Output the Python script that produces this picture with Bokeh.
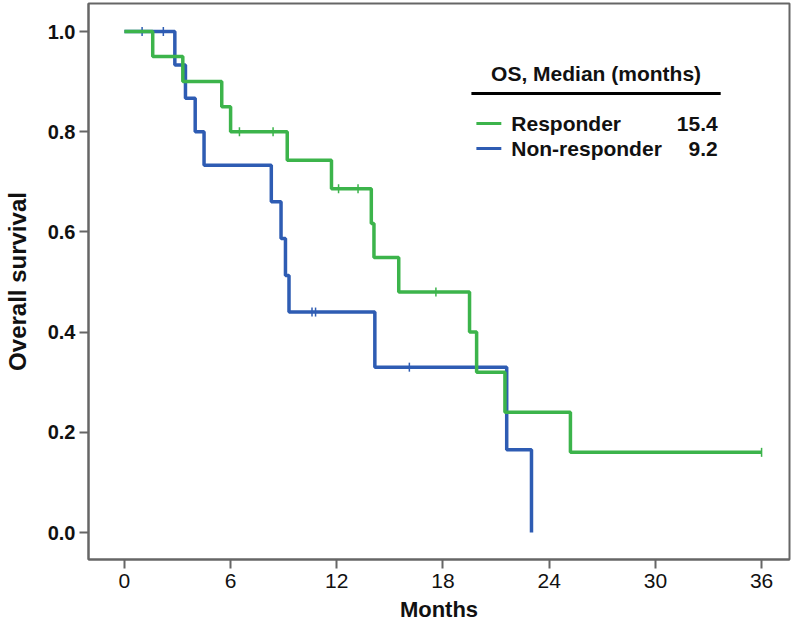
import numpy as np
from bokeh.plotting import figure
from bokeh.models import Range1d, FixedTicker, Label, NumeralTickFormatter
from bokeh.embed import file_html
from bokeh.resources import INLINE

# ---------------- data ----------------
resp_time = [0, 1.6, 3.3, 5.5, 6.0, 9.2, 11.7, 13.95, 14.1, 15.5, 19.5, 19.9, 21.5, 25.2, 36.0]
resp_surv = [1.0, 0.95, 0.90, 0.85, 0.80, 0.743, 0.686, 0.617, 0.549, 0.480, 0.400, 0.320, 0.240, 0.160, 0.160]
resp_cens_time = [6.5, 8.4, 12.1, 13.2, 17.6, 36.0]
resp_cens_surv = [0.80, 0.80, 0.686, 0.686, 0.480, 0.160]

non_time = [0, 2.85, 3.45, 4.0, 4.5, 8.3, 8.85, 9.1, 9.3, 14.15, 21.6, 23.0]
non_surv = [1.0, 0.933, 0.867, 0.800, 0.733, 0.660, 0.587, 0.513, 0.440, 0.330, 0.165, 0.0]
non_cens_time = [1.0, 2.2, 10.6, 10.8, 16.1]
non_cens_surv = [1.0, 1.0, 0.44, 0.44, 0.33]

groups = ["Responder", "Non-responder"]
medians = ["15.4", "9.2"]
legend_title = "OS, Median (months)"
x_ticks = [0, 6, 12, 18, 24, 30, 36]
y_ticks = [0.0, 0.2, 0.4, 0.6, 0.8, 1.0]

GREEN = "#3cb44b"
BLUE = "#2e5cb3"
FRAME = "#666666"
FONT = "Liberation Sans"

# ---------------- layout helpers (figure pixel -> data) ----------------
PX0, PXS = 122.0, 17.75   # pixel x of 0 months, px per month
PY0, PYS = 532.0, 501.0   # pixel y of 0.0 survival, px per unit
def dx(px):
    return (px - PX0) / PXS
def dy(py):
    return (PY0 - py) / PYS

W, H = 792, 624
FL, FR, FT, FB = 86, 789, 3, 559  # frame edges in figure pixels

p = figure(width=W, height=H, output_backend="svg", toolbar_location=None,
           x_range=Range1d(dx(FL), dx(FR)), y_range=Range1d(dy(FB), dy(FT)),
           min_border_left=FL, min_border_right=W - FR,
           min_border_top=FT, min_border_bottom=H - FB)
p.background_fill_color = "white"
p.border_fill_color = "white"
p.outline_line_color = FRAME
p.outline_line_width = 2
p.xgrid.visible = False
p.ygrid.visible = False

for ax in (p.xaxis[0], p.yaxis[0]):
    ax.axis_line_color = FRAME
    ax.axis_line_width = 2
    ax.major_tick_line_color = FRAME
    ax.major_tick_line_width = 2
    ax.major_tick_out = 9
    ax.major_tick_in = 0
    ax.minor_tick_line_color = None
    ax.major_label_text_font = FONT
    ax.major_label_text_color = "#111111"
    ax.axis_label_text_font = FONT
    ax.axis_label_text_font_style = "bold"
    ax.axis_label_text_color = "#111111"

p.xaxis.ticker = FixedTicker(ticks=x_ticks)
p.yaxis.ticker = FixedTicker(ticks=y_ticks)
p.yaxis.formatter = NumeralTickFormatter(format="0.0")
p.xaxis.major_label_text_font_size = "21px"
p.yaxis.major_label_text_font_size = "20px"
p.yaxis.major_label_text_font_style = "bold"
p.xaxis.major_label_standoff = 5
p.yaxis.major_label_standoff = 4
p.xaxis.axis_label = "Months"
p.yaxis.axis_label = "Overall survival"
p.xaxis.axis_label_text_font_size = "22px"
p.yaxis.axis_label_text_font_size = "24px"
p.xaxis.axis_label_standoff = 6
p.yaxis.axis_label_standoff = 14

# ---------------- curves ----------------
p.step(non_time, non_surv, mode="after", line_color=BLUE, line_width=3.5)
p.scatter(non_cens_time, non_cens_surv, marker="dash", angle=np.pi / 2, size=9,
          line_color=BLUE, line_width=1.5)
p.step(resp_time, resp_surv, mode="after", line_color=GREEN, line_width=3.5)
p.scatter(resp_cens_time, resp_cens_surv, marker="dash", angle=np.pi / 2, size=9,
          line_color=GREEN, line_width=1.5)

# ---------------- legend block ----------------
def lab(x, y, text, align):
    p.add_layout(Label(x=x, y=y, text=text, text_align=align, text_baseline="middle",
                       text_font=FONT, text_font_style="bold", text_font_size="21px",
                       text_color="#111111"))

lab(dx(595), dy(73), legend_title, "center")
p.segment(x0=[dx(470)], y0=[dy(93)], x1=[dx(720)], y1=[dy(93)], line_color="black", line_width=3)
rows = [123, 148]
for g, m, c, r in zip(groups, medians, [GREEN, BLUE], rows):
    p.segment(x0=[dx(475)], y0=[dy(r)], x1=[dx(500)], y1=[dy(r)], line_color=c, line_width=3)
    lab(dx(510), dy(r), g, "left")
    lab(dx(717), dy(r), m, "right")

open("out.html", "w").write(file_html(p, INLINE))
